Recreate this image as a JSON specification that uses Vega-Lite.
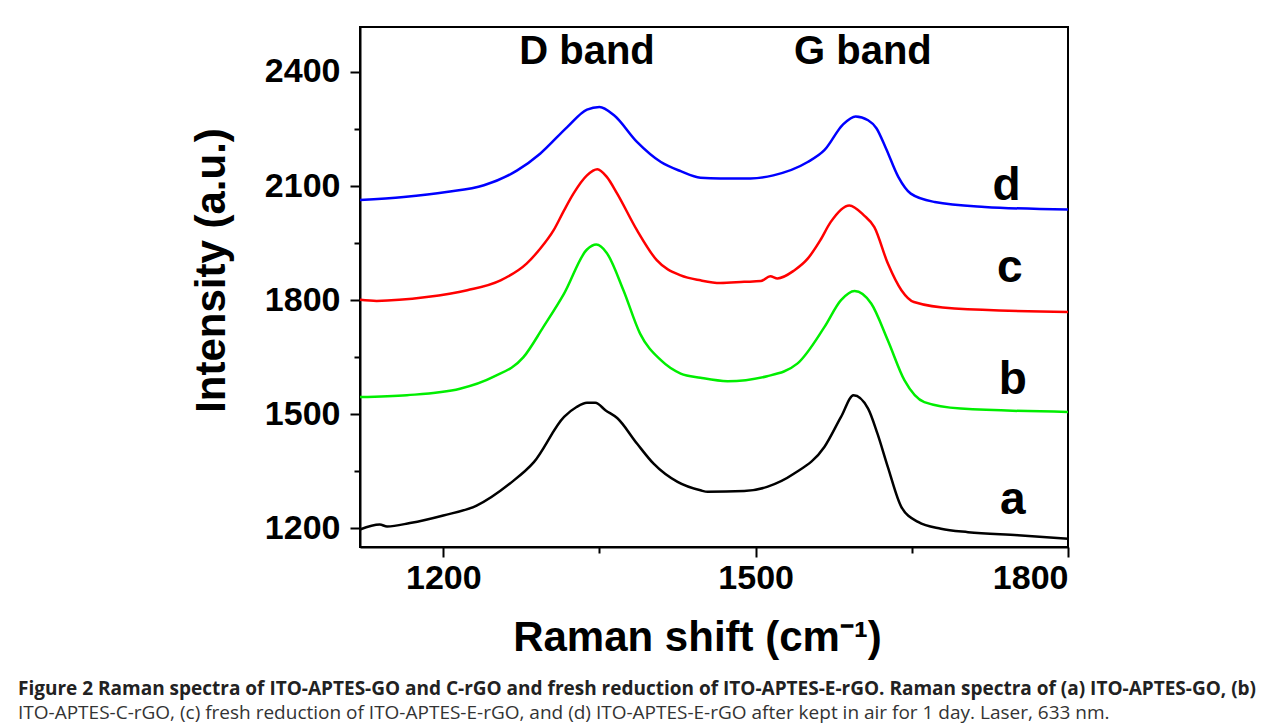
{
  "$schema": "https://vega.github.io/schema/vega-lite/v6.json",
  "width": 708,
  "height": 520,
  "autosize": {"type": "none"},
  "padding": {"left": 360, "top": 27, "right": 216, "bottom": 180},
  "background": "white",
  "title": {
    "text": "Figure 2 Raman spectra of ITO-APTES-GO and C-rGO and fresh reduction of ITO-APTES-E-rGO. Raman spectra of (a) ITO-APTES-GO, (b)",
    "subtitle": "ITO-APTES-C-rGO, (c) fresh reduction of ITO-APTES-E-rGO, and (d) ITO-APTES-E-rGO after kept in air for 1 day. Laser, 633 nm.",
    "orient": "bottom",
    "anchor": "start",
    "frame": "group",
    "dx": -342,
    "offset": 22,
    "font": "Open Sans",
    "fontSize": 19,
    "fontWeight": "bold",
    "color": "#222222",
    "subtitleFont": "Open Sans",
    "subtitleFontSize": 19,
    "subtitleFontWeight": "normal",
    "subtitleColor": "#333333",
    "subtitlePadding": 5
  },
  "datasets": {
    "spectra": [
      {"s":"a","x":1120,"y":1197},{"s":"a","x":1139,"y":1210},{"s":"a","x":1146,"y":1205},{"s":"a","x":1168,"y":1214},{"s":"a","x":1200,"y":1234},{"s":"a","x":1232,"y":1260},{"s":"a","x":1264,"y":1318},{"s":"a","x":1287,"y":1374},{"s":"a","x":1316,"y":1493},{"s":"a","x":1328,"y":1519},{"s":"a","x":1338,"y":1530},{"s":"a","x":1346,"y":1530},{"s":"a","x":1356,"y":1510},{"s":"a","x":1367,"y":1490},{"s":"a","x":1386,"y":1423},{"s":"a","x":1402,"y":1370},{"s":"a","x":1425,"y":1322},{"s":"a","x":1447,"y":1300},{"s":"a","x":1454,"y":1296},{"s":"a","x":1489,"y":1298},{"s":"a","x":1511,"y":1309},{"s":"a","x":1537,"y":1344},{"s":"a","x":1566,"y":1414},{"s":"a","x":1582,"y":1493},{"s":"a","x":1594,"y":1550},{"s":"a","x":1608,"y":1515},{"s":"a","x":1617,"y":1449},{"s":"a","x":1627,"y":1361},{"s":"a","x":1640,"y":1256},{"s":"a","x":1656,"y":1217},{"s":"a","x":1678,"y":1199},{"s":"a","x":1704,"y":1190},{"s":"a","x":1752,"y":1182},{"s":"a","x":1800,"y":1173},
      {"s":"b","x":1120,"y":1545},{"s":"b","x":1165,"y":1550},{"s":"b","x":1216,"y":1567},{"s":"b","x":1248,"y":1598},{"s":"b","x":1277,"y":1650},{"s":"b","x":1296,"y":1729},{"s":"b","x":1316,"y":1817},{"s":"b","x":1338,"y":1933},{"s":"b","x":1347,"y":1946},{"s":"b","x":1357,"y":1924},{"s":"b","x":1373,"y":1826},{"s":"b","x":1389,"y":1712},{"s":"b","x":1409,"y":1642},{"s":"b","x":1428,"y":1607},{"s":"b","x":1447,"y":1596},{"s":"b","x":1473,"y":1587},{"s":"b","x":1511,"y":1600},{"s":"b","x":1540,"y":1633},{"s":"b","x":1566,"y":1729},{"s":"b","x":1582,"y":1800},{"s":"b","x":1595,"y":1824},{"s":"b","x":1611,"y":1791},{"s":"b","x":1627,"y":1694},{"s":"b","x":1643,"y":1589},{"s":"b","x":1662,"y":1532},{"s":"b","x":1697,"y":1515},{"s":"b","x":1800,"y":1506},
      {"s":"c","x":1120,"y":1801},{"s":"c","x":1136,"y":1798},{"s":"c","x":1184,"y":1808},{"s":"c","x":1223,"y":1826},{"s":"c","x":1255,"y":1852},{"s":"c","x":1280,"y":1896},{"s":"c","x":1293,"y":1935},{"s":"c","x":1306,"y":1984},{"s":"c","x":1316,"y":2036},{"s":"c","x":1325,"y":2080},{"s":"c","x":1338,"y":2128},{"s":"c","x":1348,"y":2144},{"s":"c","x":1357,"y":2124},{"s":"c","x":1367,"y":2080},{"s":"c","x":1386,"y":1984},{"s":"c","x":1405,"y":1905},{"s":"c","x":1428,"y":1865},{"s":"c","x":1447,"y":1852},{"s":"c","x":1466,"y":1845},{"s":"c","x":1489,"y":1848},{"s":"c","x":1505,"y":1850},{"s":"c","x":1514,"y":1863},{"s":"c","x":1521,"y":1857},{"s":"c","x":1537,"y":1878},{"s":"c","x":1550,"y":1909},{"s":"c","x":1562,"y":1957},{"s":"c","x":1572,"y":2005},{"s":"c","x":1590,"y":2049},{"s":"c","x":1604,"y":2023},{"s":"c","x":1614,"y":1992},{"s":"c","x":1627,"y":1896},{"s":"c","x":1640,"y":1826},{"s":"c","x":1652,"y":1795},{"s":"c","x":1691,"y":1778},{"s":"c","x":1800,"y":1769},
      {"s":"d","x":1120,"y":2063},{"s":"d","x":1162,"y":2071},{"s":"d","x":1203,"y":2084},{"s":"d","x":1239,"y":2102},{"s":"d","x":1271,"y":2141},{"s":"d","x":1293,"y":2185},{"s":"d","x":1319,"y":2255},{"s":"d","x":1338,"y":2301},{"s":"d","x":1350,"y":2308},{"s":"d","x":1364,"y":2286},{"s":"d","x":1386,"y":2216},{"s":"d","x":1409,"y":2163},{"s":"d","x":1428,"y":2139},{"s":"d","x":1447,"y":2122},{"s":"d","x":1466,"y":2120},{"s":"d","x":1495,"y":2120},{"s":"d","x":1517,"y":2128},{"s":"d","x":1550,"y":2163},{"s":"d","x":1566,"y":2194},{"s":"d","x":1584,"y":2262},{"s":"d","x":1596,"y":2283},{"s":"d","x":1608,"y":2273},{"s":"d","x":1616,"y":2252},{"s":"d","x":1625,"y":2200},{"s":"d","x":1637,"y":2124},{"s":"d","x":1649,"y":2080},{"s":"d","x":1672,"y":2058},{"s":"d","x":1720,"y":2045},{"s":"d","x":1800,"y":2038}
    ],
    "letters": [
      {"t":"a","x":1747,"y":1274},
      {"t":"b","x":1747,"y":1589},
      {"t":"c","x":1744,"y":1884},
      {"t":"d","x":1741,"y":2099}
    ],
    "bands": [
      {"t":"D band","x":1338,"y":2452},
      {"t":"G band","x":1603,"y":2452}
    ]
  },
  "layer": [
    {
      "data": {"name": "spectra"},
      "mark": {"type": "line", "strokeWidth": 2.5, "interpolate": "monotone"},
      "encoding": {
        "x": {
          "field": "x", "type": "quantitative",
          "scale": {"domain": [1120, 1800], "nice": false, "zero": false},
          "axis": {
            "title": "Raman shift (cm⁻¹)",
            "values": [1200, 1350, 1500, 1650, 1800],
            "format": "d",
            "labelExpr": "datum.value % 300 === 0 ? datum.label : ''",
            "tickSize": {"condition": {"test": "datum.value % 300 === 0", "value": 10}, "value": 6},
            "labelPadding": 4,
            "titlePadding": 22,
            "titleX": 337
          }
        },
        "y": {
          "field": "y", "type": "quantitative",
          "scale": {"domain": [1151, 2518], "nice": false, "zero": false},
          "axis": {
            "title": "Intensity (a.u.)",
            "values": [1200, 1350, 1500, 1650, 1800, 1950, 2100, 2250, 2400],
            "format": "d",
            "labelExpr": "datum.value % 300 === 0 ? datum.label : ''",
            "tickSize": {"condition": {"test": "datum.value % 300 === 0", "value": 10}, "value": 6},
            "labelPadding": 10,
            "titlePadding": 31,
            "titleY": 243
          }
        },
        "color": {
          "field": "s", "type": "nominal",
          "scale": {"domain": ["a", "b", "c", "d"], "range": ["#000000", "#00ee00", "#ff0000", "#0000ff"]},
          "legend": null
        },
        "detail": {"field": "s"}
      }
    },
    {
      "data": {"name": "letters"},
      "mark": {"type": "text", "font": "Liberation Sans", "fontWeight": "bold", "fontSize": 46, "align": "center", "baseline": "middle", "color": "black"},
      "encoding": {
        "x": {"field": "x", "type": "quantitative"},
        "y": {"field": "y", "type": "quantitative"},
        "text": {"field": "t"}
      }
    },
    {
      "data": {"name": "bands"},
      "mark": {"type": "text", "font": "Liberation Sans", "fontWeight": "bold", "fontSize": 40, "align": "center", "baseline": "middle", "color": "black"},
      "encoding": {
        "x": {"field": "x", "type": "quantitative"},
        "y": {"field": "y", "type": "quantitative"},
        "text": {"field": "t"}
      }
    }
  ],
  "config": {
    "view": {"stroke": "black", "strokeWidth": 2},
    "axis": {
      "grid": false,
      "domainColor": "black",
      "domainWidth": 2,
      "tickColor": "black",
      "tickWidth": 2,
      "labelFont": "Liberation Sans",
      "labelFontWeight": "bold",
      "labelFontSize": 34,
      "labelColor": "black",
      "titleFont": "Liberation Sans",
      "titleFontWeight": "bold",
      "titleFontSize": 42,
      "titleColor": "black"
    }
  }
}
